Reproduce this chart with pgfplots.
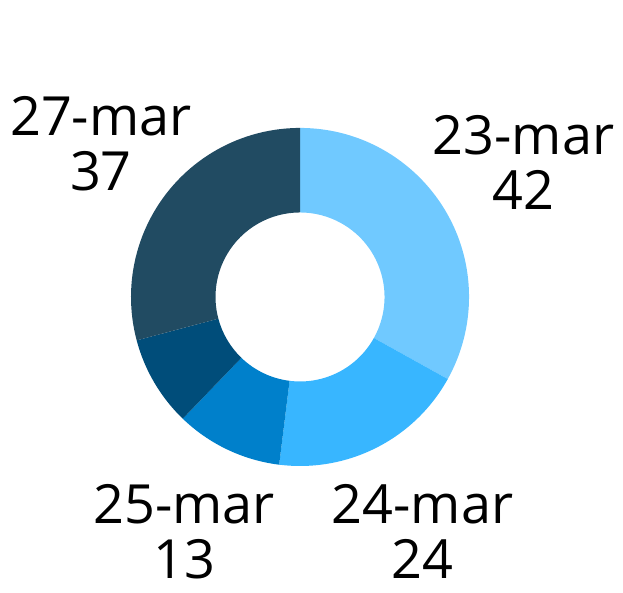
\documentclass[border=0pt]{standalone}
\usepackage{pgfplots}
\pgfplotsset{compat=1.18}
\usepackage{fontspec}
\setmainfont{Open Sans}
\definecolor{c1}{HTML}{70C9FF}
\definecolor{c2}{HTML}{38B6FF}
\definecolor{c3}{HTML}{0080CB}
\definecolor{c4}{HTML}{004D7A}
\definecolor{c5}{HTML}{214B62}
\begin{document}
\begin{tikzpicture}
% values: 23-mar 42, 24-mar 24, 25-mar 13, 26-mar 11, 27-mar 37
\xdef\cumsum{0}
\foreach \v [count=\i] in {42,24,13,11,37} {
  \pgfmathsetmacro\sa{90-\cumsum/127*360}
  \pgfmathsetmacro\newc{\cumsum+\v}
  \xdef\cumsum{\newc}
  \pgfmathsetmacro\ea{90-\cumsum/127*360}
  \expandafter\xdef\csname sa\i\endcsname{\sa}
  \expandafter\xdef\csname ea\i\endcsname{\ea}
}
\begin{axis}[
  x=84.5pt, y=84.5pt,
  xmin=-1.775, xmax=1.911, ymin=-1.751, ymax=1.757,
  hide axis, clip=false,
]
\path (axis cs:-1.775,-1.751) rectangle (axis cs:1.911,1.757);
\pgfplotsinvokeforeach{1,...,5}{
  \fill[c#1] (axis cs:0,0) ++(\csname sa#1\endcsname:84.5pt)
    arc[start angle=\csname sa#1\endcsname, end angle=\csname ea#1\endcsname, radius=84.5pt]
    -- ++(\csname ea#1\endcsname:-42.25pt)
    arc[start angle=\csname ea#1\endcsname, end angle=\csname sa#1\endcsname, radius=42.25pt]
    -- cycle;
}
\tikzset{lab/.style={align=center, font=\fontsize{27}{27.5}\selectfont, inner sep=0pt}}
\node[lab] at (axis cs:1.322,0.796) {23-mar\\42};
\node[lab] at (axis cs:0.725,-1.39) {24-mar\\24};
\node[lab] at (axis cs:-0.686,-1.39) {25-mar\\13};
\node[lab] at (axis cs:-1.178,0.908) {27-mar\\37};
\end{axis}
\end{tikzpicture}
\end{document}
